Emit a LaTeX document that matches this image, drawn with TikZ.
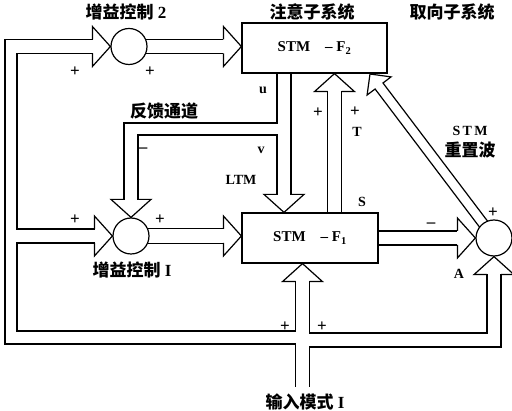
\documentclass[tikz,border=0pt]{standalone}
\usepackage{fontspec}
\setmainfont{Liberation Serif}
\newfontfamily\cjk{Noto Sans CJK SC}
\usetikzlibrary{calc}

\tikzset{
  every node/.style={font=\bfseries\fontsize{14}{14}\selectfont, inner sep=0pt},
  cjklabel/.style={font=\bfseries\fontsize{17}{17}\selectfont},
  sign/.style={font=\bfseries\fontsize{17}{17}\selectfont},
  sumnode/.style={circle, draw, line width=1.2pt, minimum size=36pt},
  stmbox/.style={draw, line width=1.2pt, minimum height=50pt,
    font=\bfseries\fontsize{15}{15}\selectfont},
  rail/.style={line width=1.2pt, line join=miter},
  bighead/.pic={\draw[rail] (-18,-7) -- (-18,-20) -- (0,0) -- (-18,20) -- (-18,7);}
}

\begin{document}
\begin{tikzpicture}[x=1pt, y=-1pt]
  \path[use as bounding box, fill=white] (0,0) rectangle (512,411);

  % blocks and summing points
  \node[stmbox, minimum width=145pt] (ftwo) at (314.5,48) {STM\quad--\ F\textsubscript{2}};
  \node[stmbox, minimum width=136pt] (fone) at (310,238) {STM\quad--\ F\textsubscript{1}};
  \node[sumnode] (gctwo) at (129,46.5) {};
  \node[sumnode] (gcone) at (131,236) {};
  \node[sumnode] (reset) at (494,238) {};

  % hollow arrow heads
  \pic at (gctwo.west) {bighead};
  \pic at (gcone.west) {bighead};
  \pic[rotate=-90] at (gcone.north) {bighead};
  \pic at (ftwo.west |- gctwo) {bighead};
  \pic at (fone.west |- gcone) {bighead};
  \pic at (reset.west) {bighead};
  \pic[rotate=90] at (reset.south) {bighead};
  \pic[rotate=90] at (fone.south -| 302.5,0) {bighead};
  \pic[rotate=-90] at (fone.north -| 284,0) {bighead};
  \pic[rotate=90] at (ftwo.south -| 334.5,0) {bighead};

  % input pattern, left branch to both gain controls
  \draw[rail] (295.5,387) -- (295.5,344) -- (5,344) -- (5,39.5) -- (93,39.5);
  \draw[rail] (93,53.5) -- (17,53.5) -- (17,229) -- (95,229);
  \draw[rail] (95,243) -- (17,243) -- (17,331) -- (295.5,331) -- (295.5,281);
  % right branch to A
  \draw[rail] (309.5,281) -- (309.5,333) -- (487,333) -- (487,274);
  \draw[rail] (309.5,387) -- (309.5,347) -- (501,347) -- (501,274);

  % gain controls into F2, F1
  \draw[rail] (gctwo.23) -- ($(gctwo.23 -| ftwo.west)+(-18,0)$);
  \draw[rail] (gctwo.-23) -- ($(gctwo.-23 -| ftwo.west)+(-18,0)$);
  \draw[rail] (gcone.23) -- ($(gcone.23 -| fone.west)+(-18,0)$);
  \draw[rail] (gcone.-23) -- ($(gcone.-23 -| fone.west)+(-18,0)$);

  % F1 to A
  \draw[rail] ([yshift=7pt]fone.east) -- ([yshift=7pt,xshift=-18pt]reset.west);
  \draw[rail] ([yshift=-7pt]fone.east) -- ([yshift=-7pt,xshift=-18pt]reset.west);

  % LTM down path with feedback
  \draw[rail] (291,73) -- (291,195);
  \draw[rail] (277,73) -- (277,123) -- (124,123) -- (124,200);
  \draw[rail] (138,200) -- (138,135) -- (277,135) -- (277,195);

  % T up path
  \draw[rail] (327.5,213) -- (327.5,91);
  \draw[rail] (341.5,213) -- (341.5,91);

  % reset wave, A back to F2
  \coordinate (rtip) at (370,74);
  \draw[rail] (487.6,221.2) -- (383,83) -- (391,76.9) -- (rtip)
    -- (367.1,95) -- (375.1,89) -- (479.6,227.2);

  % labels
  \node[cjklabel] (tgctwo) at (126,12) {{\cjk 增益控制} 2};
  \node[cjklabel] (tatt) at (312,12) {\cjk 注意子系统};
  \node[cjklabel] (tori) at (452,12) {\cjk 取向子系统};
  \node[cjklabel] (tfb) at (164,111) {\cjk 反馈通道};
  \node[cjklabel] (tgcone) at (132,270) {{\cjk 增益控制} I};
  \node[cjklabel] (tin) at (305,402) {{\cjk 输入模式} I};
  \node (tstm) at (470,131) {S\,T\,M};
  \node[cjklabel] (twave) at (470,150) {\cjk 重置波};

  \node[sign] (pa) at (75,72) {+};
  \node[sign] (pb) at (150,72) {+};
  \node[sign] (pc) at (75,220) {+};
  \node[sign] (pd) at (160,220) {+};
  \node[sign] (ma) at (143,150) {--};
  \node (tu) at (263,90) {u};
  \node (tv) at (261,150) {v};
  \node (tltm) at (241,180) {LTM};
  \node[sign] (pe) at (318,113) {+};
  \node[sign] (pf) at (355,112) {+};
  \node (tt) at (357,132) {T};
  \node (ts) at (362,202) {S};
  \node[sign] (mb) at (431,225) {--};
  \node[sign] (pg) at (493,213) {+};
  \node (ta) at (459,274) {A};
  \node[sign] (ph) at (285,327) {+};
  \node[sign] (pi) at (322,327) {+};
\end{tikzpicture}
\end{document}
